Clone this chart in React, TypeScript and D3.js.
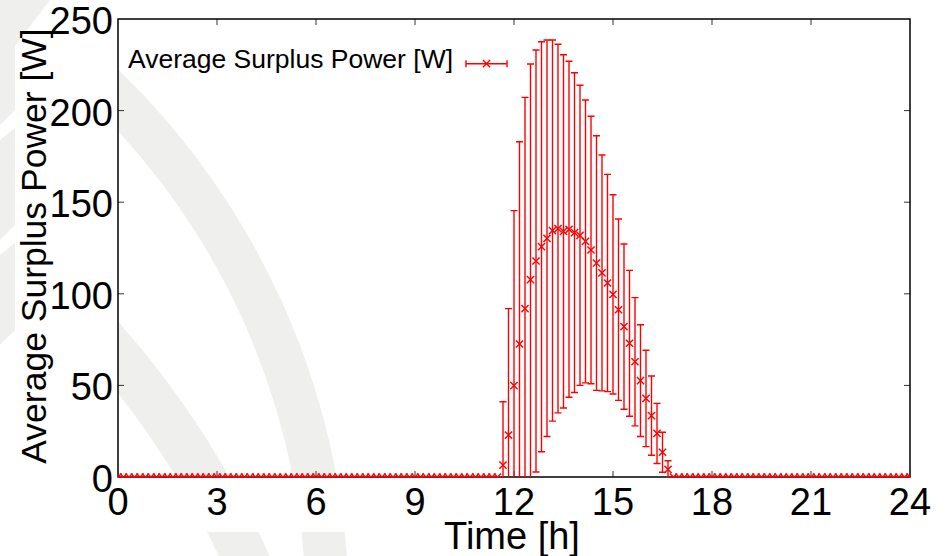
import React from "react";
import * as d3 from "d3";

// ---- data ----
const xTicks = [0, 3, 6, 9, 12, 15, 18, 21, 24];
const yTicks = [0, 50, 100, 150, 200, 250];
const slotMinutes = 10;
const slotsPerDay = 144; // 0:00 .. 24:00 inclusive -> 145 samples
const firstDaylightSlot = 70; // 11:40
const meanW = [6.5, 22.9, 49.9, 72.6, 91.9, 107.7, 117.9, 125.7, 130.3, 134.5, 135.6, 134.1, 135.2, 133.4, 131.9, 128.6, 123.9, 116.8, 111.4, 105.9, 99.7, 91.3, 82.1, 73.0, 62.9, 52.6, 42.9, 33.5, 23.8, 13.5, 4.2];
const stdW = [34.6, 69.0, 95.5, 110.4, 115.3, 117.7, 115.2, 111.9, 108.2, 104.0, 100.6, 96.4, 91.7, 87.3, 81.9, 77.2, 73.0, 69.5, 64.4, 59.3, 54.4, 49.5, 45.1, 39.8, 35.0, 30.5, 26.3, 21.6, 16.4, 10.9, 4.7];
const seriesLabel = "Average Surplus Power [W]";
const xTitle = "Time [h]";
const yTitle = "Average Surplus Power [W]";

// watermark arcs (background decoration): centre, inner/outer radius, angle span
const watermarkArcs = [
  { cx: -406, cy: 613, r0: 712, r1: 755, a0: 0.7, a1: 1.6 },
  { cx: -569, cy: 932, r0: 873, r1: 919, a0: 0.75, a1: 1.3 },
];
const leftPatches: [number, number][][] = [
  [[0, 0], [50, 0], [15, 46], [15, 110], [0, 125]],
  [[0, 140], [15, 128], [15, 225], [0, 240]],
  [[0, 255], [15, 243], [15, 330], [0, 345]],
];

type Pt = { h: number; m: number; s: number };
const points: Pt[] = d3.range(slotsPerDay + 1).map((i) => {
  const k = i - firstDaylightSlot;
  const inDay = k >= 0 && k < meanW.length;
  return { h: (i * slotMinutes) / 60, m: inDay ? meanW[k] : 0, s: inDay ? stdW[k] : 0 };
});

const W = 945;
const H = 556;
const left = 118, right = 910, top = 19, bottom = 477;
const RED = "#ff0000";
const GRAY = "#efefed";
const FONT = "'Liberation Sans', Arial, Helvetica, sans-serif";

export default function App() {
  const x = d3.scaleLinear().domain([0, 24]).range([left, right]);
  const y = d3.scaleLinear().domain([0, 250]).range([bottom, top]);
  const straight = (pts: [number, number][]) => "M" + pts.map((p) => p.join(",")).join("L") + "Z";
  const cap = 3.5;
  const ms = 3.6;
  const xMark = (cx: number, cy: number, r: number) =>
    `M${cx - r},${cy - r}L${cx + r},${cy + r}M${cx - r},${cy + r}L${cx + r},${cy - r}`;

  const legendY = 63.7;
  const lx0 = 466, lx1 = 507, lxm = 486.5;

  return (
    <svg width={W} height={H} style={{ position: "absolute", left: 0, top: 0, background: "#fff" }}>
      <defs>
        <clipPath id="wm">
          <rect x={left} y={top} width={right - left} height={bottom - top} />
          <rect x={0} y={532} width={W} height={H - 532} />
        </clipPath>
        <clipPath id="plot">
          <rect x={left} y={top - 2} width={right - left} height={bottom - top + 2.2} />
        </clipPath>
      </defs>
      <rect x={0} y={0} width={W} height={H} fill="#fff" />
      <g clipPath="url(#wm)" fill={GRAY}>
        {watermarkArcs.map((a, i) => (
          <path
            key={i}
            transform={`translate(${a.cx},${a.cy})`}
            d={
              d3.arc()({
                innerRadius: a.r0,
                outerRadius: a.r1,
                startAngle: a.a0,
                endAngle: a.a1,
              }) as string
            }
          />
        ))}
      </g>
      <g fill={GRAY}>
        {leftPatches.map((p, i) => (
          <path key={i} d={straight(p)} />
        ))}
      </g>

      {/* frame and ticks */}
      <g stroke="#333" strokeWidth={1}>
        {xTicks.slice(1, -1).map((t) => (
          <g key={"xt" + t}>
            <line x1={x(t)} x2={x(t)} y1={bottom} y2={bottom - 6} />
            <line x1={x(t)} x2={x(t)} y1={top} y2={top + 6} />
          </g>
        ))}
        {yTicks.slice(1, -1).map((t) => (
          <g key={"yt" + t}>
            <line x1={left} x2={left + 6} y1={y(t)} y2={y(t)} />
            <line x1={right} x2={right - 6} y1={y(t)} y2={y(t)} />
          </g>
        ))}
      </g>
      <rect x={left} y={top} width={right - left} height={bottom - top} fill="none" stroke="#000" strokeWidth={1.5} />

      {/* data */}
      <g clipPath="url(#plot)" stroke={RED} strokeWidth={1.4} fill="none">
        {points.map((p, i) => {
          const px = x(p.h);
          const yl = y(p.m - p.s);
          const yh = y(p.m + p.s);
          return (
            <g key={i}>
              {p.s > 0 && <line x1={px} x2={px} y1={yl} y2={yh} />}
              <line x1={px - cap} x2={px + cap} y1={yh} y2={yh} />
              <line x1={px - cap} x2={px + cap} y1={yl} y2={yl} />
              <path d={xMark(px, y(p.m), ms)} />
            </g>
          );
        })}
      </g>

      {/* tick labels */}
      <g fontFamily={FONT} fontSize={38} fill="#000">
        {yTicks.map((t) => (
          <text key={"yl" + t} x={113} y={y(t) + 15} textAnchor="end">
            {t}
          </text>
        ))}
        {xTicks.map((t) => (
          <text key={"xl" + t} x={x(t)} y={515} textAnchor="middle">
            {t}
          </text>
        ))}
        <text x={512} y={549} textAnchor="middle" fontSize={38}>
          {xTitle}
        </text>
      </g>
      <text
        transform="translate(46,246) rotate(-90)"
        textAnchor="middle"
        fontFamily={FONT}
        fontSize={35.5}
        fill="#000"
      >
        {yTitle}
      </text>

      {/* legend */}
      <text x={128} y={68} fontFamily={FONT} fontSize={26.5} fill="#000">
        {seriesLabel}
      </text>
      <g stroke={RED} strokeWidth={1.4} fill="none">
        <line x1={lx0} x2={lx1} y1={legendY} y2={legendY} />
        <line x1={lx0} x2={lx0} y1={legendY - cap} y2={legendY + cap} />
        <line x1={lx1} x2={lx1} y1={legendY - cap} y2={legendY + cap} />
        <path d={xMark(lxm, legendY, ms)} />
      </g>
    </svg>
  );
}
